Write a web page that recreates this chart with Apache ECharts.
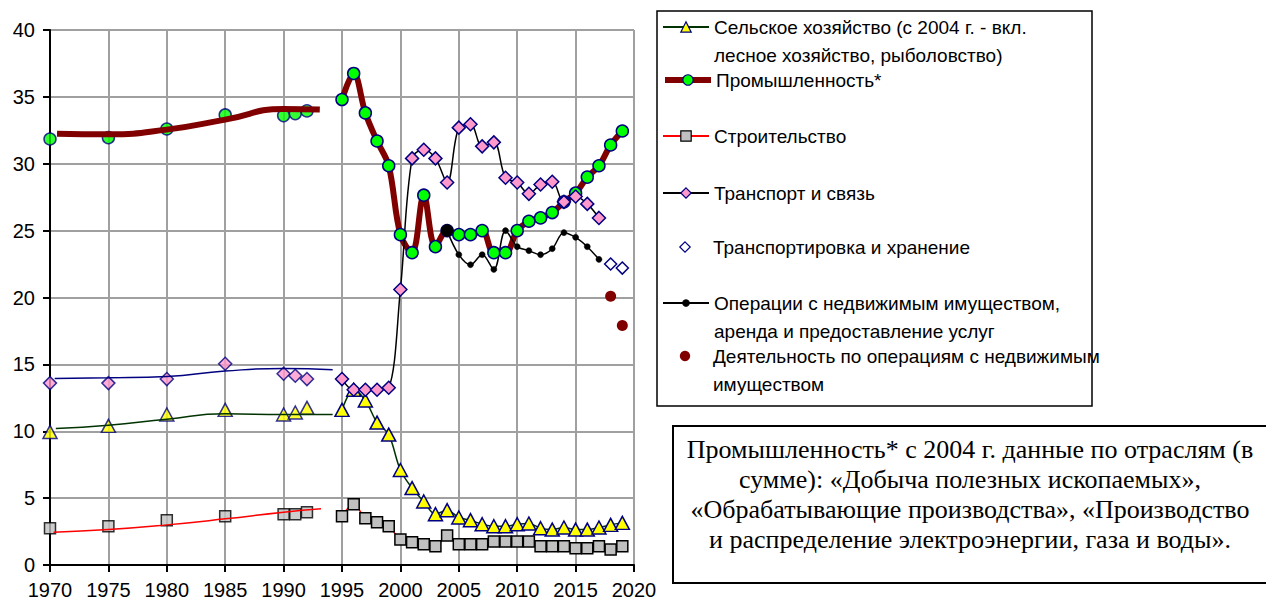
<!DOCTYPE html>
<html><head><meta charset="utf-8">
<script src="https://cdn.jsdelivr.net/npm/echarts@6/dist/echarts.min.js"></script>
<style>html,body{margin:0;padding:0;background:#fff}#c{width:1266px;height:600px}</style>
</head><body><div id="c"></div>
<script>
// ---------- DATA ----------
const yearsEarly = [1970, 1975, 1980, 1985, 1990, 1991, 1992];
const agriEarly = [9.95, 10.4, 11.25, 11.6, 11.25, 11.4, 11.75];
const industryEarly = [31.85, 31.95, 32.6, 33.65, 33.6, 33.75, 33.95];
const constrEarly = [2.75, 2.9, 3.35, 3.65, 3.8, 3.8, 3.95];
const transpEarly = [13.6, 13.6, 13.9, 15.05, 14.3, 14.15, 13.9];

const agriTrendYears = [1970.5, 1975, 1980, 1985, 1990, 1994.2];
const agriTrend = [10.2, 10.45, 10.9, 11.3, 11.25, 11.25];
const industryTrendYears = [1970.6, 1975, 1980, 1985, 1990, 1993.1];
const industryTrend = [32.25, 32.2, 32.55, 33.3, 34.1, 34.05];
const constrTrendYears = [1970.3, 1975, 1980, 1985, 1990, 1993.2];
const constrTrend = [2.45, 2.65, 3.0, 3.45, 3.95, 4.2];
const transpTrendYears = [1970.4, 1975, 1980, 1985, 1990, 1994.2];
const transpTrend = [13.95, 14.0, 14.1, 14.5, 14.7, 14.6];

const years = [1995, 1996, 1997, 1998, 1999, 2000, 2001, 2002, 2003, 2004, 2005, 2006, 2007,
  2008, 2009, 2010, 2011, 2012, 2013, 2014, 2015, 2016, 2017, 2018, 2019];
const agri = [11.6, 13.1, 12.3, 10.65, 9.75, 7.1, 5.75, 4.75, 3.8, 4.1, 3.55, 3.35, 3.05,
  2.9, 2.9, 3.05, 3.1, 2.75, 2.65, 2.8, 2.65, 2.65, 2.8, 3.0, 3.15];
const industry = [34.8, 36.75, 33.8, 31.7, 29.85, 24.7, 23.35, 27.65, 23.8, 25.0, 24.7, 24.7, 25.0,
  23.35, 23.35, 25.0, 25.7, 25.95, 26.35, 27.15, 27.8, 29.0, 29.85, 31.4, 32.45];
const constr = [3.65, 4.55, 3.5, 3.2, 2.9, 1.9, 1.7, 1.55, 1.4, 2.2, 1.55, 1.55, 1.55,
  1.75, 1.75, 1.75, 1.75, 1.4, 1.4, 1.4, 1.25, 1.25, 1.4, 1.15, 1.4];
const transpYears = [1995, 1996, 1997, 1998, 1999, 2000, 2001, 2002, 2003, 2004, 2005, 2006,
  2007, 2008, 2009, 2010, 2011, 2012, 2013, 2014, 2015, 2016, 2017];
const transp = [13.9, 13.1, 13.1, 13.1, 13.25, 20.6, 30.4, 31.05, 30.4, 28.6, 32.7, 32.95,
  31.3, 31.6, 28.95, 28.6, 27.75, 28.45, 28.65, 27.15, 27.55, 27.0, 25.95];
const storageYears = [2018, 2019];
const storage = [22.5, 22.2];
const realtyYears = [2004, 2005, 2006, 2007, 2008, 2009, 2010, 2011, 2012, 2013, 2014, 2015, 2016, 2017];
const realty = [25.0, 23.2, 22.45, 23.2, 22.1, 25.0, 23.8, 23.5, 23.2, 23.65, 24.85, 24.5, 23.8, 22.85];
const realEstateYears = [2018, 2019];
const realEstate = [20.1, 17.9];

const names = [
  'Сельское хозяйство (с 2004 г. - вкл. лесное хозяйство, рыболовство)',
  'Промышленность*',
  'Строительство',
  'Транспорт и связь',
  'Транспортировка и хранение',
  'Операции с недвижимым имуществом, аренда и предоставление услуг',
  'Деятельность по операциям с недвижимым имуществом'
];
const legendLabels = [
  'Сельское хозяйство (с 2004 г. - вкл.\nлесное хозяйство, рыболовство)',
  'Промышленность*',
  'Строительство',
  'Транспорт и связь',
  'Транспортировка и хранение',
  'Операции с недвижимым имуществом,\nаренда и предоставление услуг',
  'Деятельность по операциям с недвижимым\nимуществом'
];
const noteLines = [
  'Промышленность* с 2004 г. данные по отраслям (в',
  'сумме): «Добыча полезных ископаемых»,',
  '«Обрабатывающие производства», «Производство',
  'и распределение электроэнергии, газа и воды».'
];
const xTicks = { min: 1970, max: 2020, step: 5 };
const yTicks = { min: 0, max: 40, step: 5 };

// ---------- CHART ----------
const NAVY = '#000080', MAROON = '#800000', DGREEN = '#003300';
const pairs = (xs, ys) => xs.map((x, i) => [x, ys[i]]);
const chart = echarts.init(document.getElementById('c'), null, { renderer: 'svg' });

function lg(i, centerY, twoLines, extra) {
  return Object.assign({
    data: [names[i]], left: 662, top: twoLines ? centerY - 42 : centerY - 14,
    orient: 'vertical', itemWidth: 46, itemHeight: 13, padding: 0, itemGap: 0,
    selectedMode: false, symbolKeepAspect: true,
    itemStyle: { borderWidth: 1.2 },
    formatter: n => (twoLines ? '\u00a0\n' : '') + legendLabels[names.indexOf(n)],
    textStyle: { fontSize: 19, fontFamily: 'Liberation Sans', color: '#000', lineHeight: 28 }
  }, extra || {});
}

const triStyle = { color: '#ffff00', borderColor: NAVY, borderWidth: 1.5 };
const cirStyle = { color: '#00ff00', borderColor: NAVY, borderWidth: 1.5 };
const sqStyle = { color: '#c0c0c0', borderColor: '#000', borderWidth: 1.5 };
const diaStyle = { color: '#ff99cc', borderColor: NAVY, borderWidth: 1.5 };
const hidden = { width: 0, opacity: 0 };

const axisCommon = {
  type: 'value',
  axisLine: { show: true, onZero: false, lineStyle: { color: '#000', width: 2 } },
  axisTick: { show: true, length: 7, lineStyle: { color: '#000', width: 2 } },
  axisLabel: { fontSize: 20, color: '#000', fontFamily: 'Liberation Sans', margin: 15,
    formatter: v => String(v) },
  splitLine: { show: true, lineStyle: { color: '#a0a0a0', width: 2 } }
};

chart.setOption({
  animation: false,
  backgroundColor: '#fff',
  grid: { left: 50, right: 632, top: 30, bottom: 33 },
  xAxis: Object.assign({}, axisCommon, { min: xTicks.min, max: xTicks.max, interval: xTicks.step }),
  yAxis: Object.assign({}, axisCommon, { min: yTicks.min, max: yTicks.max, interval: yTicks.step }),
  legend: [
    lg(0, 27, true), lg(1, 80, false, { lineStyle: { width: 6 } }), lg(2, 136, false),
    lg(3, 193, false), lg(4, 247, false), lg(5, 303, true, { itemHeight: 8 }), lg(6, 356, true)
  ],
  graphic: [
    { type: 'rect', shape: { x: 657, y: 11, width: 435, height: 395 },
      style: { fill: 'none', stroke: '#000', lineWidth: 1.5 }, silent: true },
    { type: 'rect', shape: { x: 673, y: 426, width: 610, height: 157 },
      style: { fill: 'none', stroke: '#000', lineWidth: 2 }, silent: true },
    { type: 'text', x: 970, y: 434, silent: true,
      style: { text: noteLines.join('\n'), fontFamily: 'Liberation Serif', fontSize: 26,
        lineHeight: 30, align: 'center', verticalAlign: 'top', fill: '#000' } }
  ],
  series: [
    // early-period trend curves
    { name: 'agriTrend', type: 'line', data: pairs(agriTrendYears, agriTrend), smooth: 0.5,
      symbol: 'none', lineStyle: { color: DGREEN, width: 1.5 }, silent: true },
    { name: 'industryTrend', type: 'line', data: pairs(industryTrendYears, industryTrend), smooth: 0.5,
      symbol: 'none', lineStyle: { color: MAROON, width: 6 }, silent: true },
    { name: 'constrTrend', type: 'line', data: pairs(constrTrendYears, constrTrend), smooth: 0.5,
      symbol: 'none', lineStyle: { color: '#ff0000', width: 1.5 }, silent: true },
    { name: 'transpTrend', type: 'line', data: pairs(transpTrendYears, transpTrend), smooth: 0.5,
      symbol: 'none', lineStyle: { color: NAVY, width: 1.5 }, silent: true },
    // early-period markers
    { name: 'agriEarly', type: 'scatter', data: pairs(yearsEarly, agriEarly), symbol: 'triangle',
      symbolSize: [14, 13], itemStyle: triStyle },
    { name: 'industryEarly', type: 'scatter', data: pairs(yearsEarly, industryEarly), symbol: 'circle',
      symbolSize: 12, itemStyle: cirStyle },
    { name: 'constrEarly', type: 'scatter', data: pairs(yearsEarly, constrEarly), symbol: 'rect',
      symbolSize: 11, itemStyle: sqStyle },
    { name: 'transpEarly', type: 'scatter', data: pairs(yearsEarly, transpEarly), symbol: 'diamond',
      symbolSize: 13, itemStyle: diaStyle },
    // main series
    { name: names[0], type: 'line', data: pairs(years, agri), smooth: 0.35, symbol: 'triangle',
      symbolSize: [14, 13], lineStyle: { color: DGREEN, width: 1.5 }, itemStyle: triStyle },
    { name: names[1], type: 'line', data: pairs(years, industry), smooth: 0.35, symbol: 'circle',
      symbolSize: 12, lineStyle: { color: MAROON, width: 6 }, itemStyle: cirStyle },
    { name: names[2], type: 'line', data: pairs(years, constr), smooth: 0.35, symbol: 'rect',
      symbolSize: 11, lineStyle: { color: '#ff0000', width: 1.5 }, itemStyle: sqStyle },
    { name: names[3], type: 'line', data: pairs(transpYears, transp), smooth: 0.35, symbol: 'diamond',
      symbolSize: 13, lineStyle: { color: '#000', width: 1.5 }, itemStyle: diaStyle },
    { name: names[4], type: 'line', data: pairs(storageYears, storage), symbol: 'diamond',
      symbolSize: 12, lineStyle: hidden,
      itemStyle: { color: '#fff', borderColor: NAVY, borderWidth: 1.5 } },
    { name: names[5], type: 'line', data: pairs(realtyYears, realty), smooth: 0.35, symbol: 'circle',
      symbolSize: (v, p) => p.dataIndex === 0 ? 12 : 6,
      lineStyle: { color: '#000', width: 1.5 }, itemStyle: { color: '#000', borderColor: '#000', borderWidth: 0.5 } },
    { name: names[6], type: 'line', data: pairs(realEstateYears, realEstate), symbol: 'circle',
      symbolSize: 11, lineStyle: hidden, itemStyle: { color: MAROON } }
  ]
});
</script></body></html>
